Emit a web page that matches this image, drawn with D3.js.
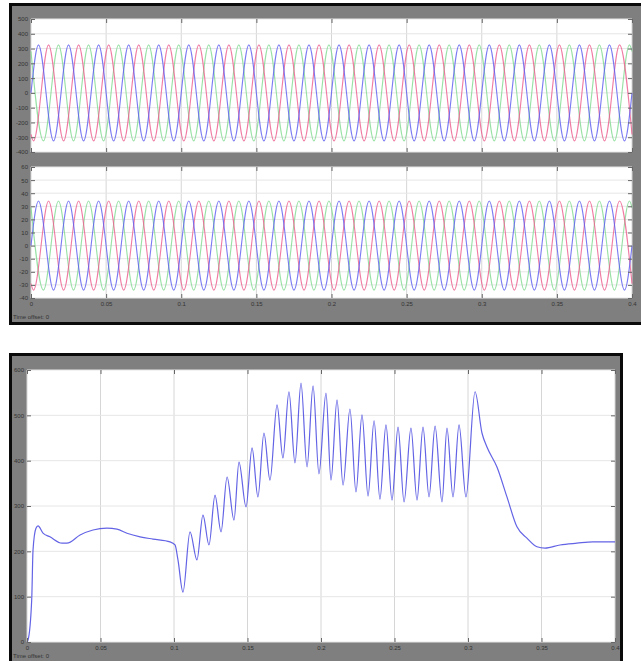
<!DOCTYPE html>
<html><head><meta charset="utf-8">
<script src="https://cdn.jsdelivr.net/npm/d3@7"></script>
<style>
body{margin:0;background:#fff}
svg{display:block}
text{font-family:"Liberation Sans",Arial,sans-serif}
</style>
</head><body>
<svg id="chart" width="641" height="661"></svg>
<script>
// ---- axis ticks ----
const timeTicks = [0, 0.05, 0.1, 0.15, 0.2, 0.25, 0.3, 0.35, 0.4];
const timeTickLabels = ["0", "0.05", "0.1", "0.15", "0.2", "0.25", "0.3", "0.35", "0.4"];
const voltageTicks = [500, 400, 300, 200, 100, 0, -100, -200, -300, -400];
const currentTicks = [60, 50, 40, 30, 20, 10, 0, -10, -20, -30, -40];
const speedTicks = [0, 100, 200, 300, 400, 500, 600];

// ---- three-phase waveforms: turning points (s) ----
const phaseATimes = [0, 0.005, 0.015, 0.025, 0.035, 0.045, 0.055, 0.065, 0.075, 0.085, 0.095,
  0.105, 0.115, 0.125, 0.135, 0.145, 0.155, 0.165, 0.175, 0.185, 0.195,
  0.205, 0.215, 0.225, 0.235, 0.245, 0.255, 0.265, 0.275, 0.285, 0.295,
  0.305, 0.315, 0.325, 0.335, 0.345, 0.355, 0.365, 0.375, 0.385, 0.395, 0.4];
const phaseBTimes = [0, 0.0017, 0.0117, 0.0217, 0.0317, 0.0417, 0.0517, 0.0617, 0.0717, 0.0817, 0.0917,
  0.1017, 0.1117, 0.1217, 0.1317, 0.1417, 0.1517, 0.1617, 0.1717, 0.1817, 0.1917,
  0.2017, 0.2117, 0.2217, 0.2317, 0.2417, 0.2517, 0.2617, 0.2717, 0.2817, 0.2917,
  0.3017, 0.3117, 0.3217, 0.3317, 0.3417, 0.3517, 0.3617, 0.3717, 0.3817, 0.3917, 0.4];
const phaseCTimes = [0, 0.0083, 0.0183, 0.0283, 0.0383, 0.0483, 0.0583, 0.0683, 0.0783, 0.0883, 0.0983,
  0.1083, 0.1183, 0.1283, 0.1383, 0.1483, 0.1583, 0.1683, 0.1783, 0.1883, 0.1983,
  0.2083, 0.2183, 0.2283, 0.2383, 0.2483, 0.2583, 0.2683, 0.2783, 0.2883, 0.2983,
  0.3083, 0.3183, 0.3283, 0.3383, 0.3483, 0.3583, 0.3683, 0.3783, 0.3883, 0.3983, 0.4];

// voltage (V) at those points
const voltageA = [0, 325, -325, 325, -325, 325, -325, 325, -325, 325, -325,
  325, -325, 325, -325, 325, -325, 325, -325, 325, -325,
  325, -325, 325, -325, 325, -325, 325, -325, 325, -325,
  325, -325, 325, -325, 325, -325, 325, -325, 325, -325, 0];
const voltageB = [-281, -325, 325, -325, 325, -325, 325, -325, 325, -325, 325,
  -325, 325, -325, 325, -325, 325, -325, 325, -325, 325,
  -325, 325, -325, 325, -325, 325, -325, 325, -325, 325,
  -325, 325, -325, 325, -325, 325, -325, 325, -325, 325, -281];
const voltageC = [281, -325, 325, -325, 325, -325, 325, -325, 325, -325, 325,
  -325, 325, -325, 325, -325, 325, -325, 325, -325, 325,
  -325, 325, -325, 325, -325, 325, -325, 325, -325, 325,
  -325, 325, -325, 325, -325, 325, -325, 325, -325, 325, 281];

// current (A) at those points
const currentA = [0, 34, -34, 34, -34, 34, -34, 34, -34, 34, -34,
  34, -34, 34, -34, 34, -34, 34, -34, 34, -34,
  34, -34, 34, -34, 34, -34, 34, -34, 34, -34,
  34, -34, 34, -34, 34, -34, 34, -34, 34, -34, 0];
const currentB = [-29, -34, 34, -34, 34, -34, 34, -34, 34, -34, 34,
  -34, 34, -34, 34, -34, 34, -34, 34, -34, 34,
  -34, 34, -34, 34, -34, 34, -34, 34, -34, 34,
  -34, 34, -34, 34, -34, 34, -34, 34, -34, 34, -29];
const currentC = [29, -34, 34, -34, 34, -34, 34, -34, 34, -34, 34,
  -34, 34, -34, 34, -34, 34, -34, 34, -34, 34,
  -34, 34, -34, 34, -34, 34, -34, 34, -34, 34,
  -34, 34, -34, 34, -34, 34, -34, 34, -34, 34, 29];

// ---- lower scope trace ----
const speedTimes = [0, 0.0007, 0.0032, 0.0041, 0.0061, 0.0075, 0.0109, 0.0156, 0.0238, 0.0272,
  0.0361, 0.0449, 0.0544, 0.0612, 0.068, 0.0769, 0.0857, 0.0973, 0.1007, 0.1027,
  0.1061, 0.1109, 0.1156, 0.1197, 0.1238, 0.1279, 0.132, 0.1361, 0.1408, 0.1442,
  0.149, 0.1531, 0.1571, 0.1612, 0.1653, 0.1701, 0.1741, 0.1782, 0.1823, 0.1864,
  0.1905, 0.1946, 0.1986, 0.2034, 0.2068, 0.2109, 0.215, 0.2197, 0.2238, 0.2279,
  0.232, 0.2361, 0.2401, 0.2442, 0.2483, 0.2524, 0.2565, 0.2612, 0.2653, 0.2694,
  0.2735, 0.2776, 0.2823, 0.2857, 0.2898, 0.2939, 0.2986, 0.3048, 0.3095, 0.3129,
  0.3197, 0.3265, 0.3333, 0.3401, 0.3469, 0.3524, 0.3626, 0.3741, 0.385, 0.4];
const speedValues = [0, 4, 93, 203, 251, 256, 240, 232, 218, 218,
  236, 247, 251, 249, 240, 232, 227, 221, 214, 181,
  110, 243, 181, 280, 214, 324, 243, 364, 269, 397,
  298, 428, 320, 461, 357, 523, 406, 552, 395, 571,
  386, 565, 371, 549, 357, 534, 346, 514, 331, 501,
  322, 488, 315, 479, 313, 474, 309, 472, 313, 474,
  320, 476, 309, 472, 320, 479, 320, 552, 461, 430,
  386, 320, 254, 229, 210, 207, 214, 218, 221, 221];

const svg = d3.select("#chart");
const GRAY = "#7f7f7f";

function zip(ts, vs) { return ts.map((t, i) => [t, vs[i]]); }

// scope window frame: black edge, gray body
function frame(x0, y0, x1, y1) {
  svg.append("rect").attr("x", x0).attr("y", y0).attr("width", x1 - x0).attr("height", y1 - y0).attr("fill", "#0a0a0a");
  svg.append("rect").attr("x", x0 + 3).attr("y", y0 + 3).attr("width", x1 - x0 - 6).attr("height", y1 - y0 - 6).attr("fill", GRAY);
}

function panel(x, y, yTicks, yTickLabels, showX, series) {
  const [l, r] = x.range();
  const [b, t] = y.range();
  const g = svg.append("g");
  g.append("rect").attr("x", l).attr("y", t).attr("width", r - l).attr("height", b - t).attr("fill", "#fff");

  // grid
  g.append("g").selectAll("line").data(timeTicks).join("line")
    .attr("x1", d => x(d)).attr("x2", d => x(d)).attr("y1", t).attr("y2", b)
    .attr("stroke", "#d6d6d6").attr("stroke-width", 1);
  g.append("g").selectAll("line").data(yTicks).join("line")
    .attr("x1", l).attr("x2", r).attr("y1", d => y(d)).attr("y2", d => y(d))
    .attr("stroke", "#e6e6e6").attr("stroke-width", 1);

  // traces
  const line = d3.line().x(d => x(d[0])).y(d => y(d[1])).curve(d3.curveMonotoneX);
  series.forEach(s => {
    g.append("path").datum(s.points).attr("d", line)
      .attr("fill", "none").attr("stroke", s.color).attr("stroke-width", s.width || 1.1)
      .attr("stroke-opacity", s.opacity || 0.8);
  });

  // axes with inward ticks
  const left = g.append("g").attr("transform", `translate(${l},0)`)
    .call(d3.axisLeft(y).tickValues(yTicks).tickFormat((d, i) => yTickLabels[i]).tickSizeInner(-4).tickSizeOuter(0).tickPadding(3));
  const right = g.append("g").attr("transform", `translate(${r},0)`)
    .call(d3.axisRight(y).tickValues(yTicks).tickFormat("").tickSizeInner(-4).tickSizeOuter(0));
  const bottom = g.append("g").attr("transform", `translate(0,${b})`)
    .call(d3.axisBottom(x).tickValues(timeTicks).tickFormat((d, i) => showX ? timeTickLabels[i] : "").tickSizeInner(-4).tickSizeOuter(0).tickPadding(4));
  const top = g.append("g").attr("transform", `translate(0,${t})`)
    .call(d3.axisTop(x).tickValues(timeTicks).tickFormat("").tickSizeInner(-4).tickSizeOuter(0));
  [left, right, bottom, top].forEach(a => {
    a.select(".domain").remove();
    a.selectAll(".tick line").attr("stroke", "#666");
    a.selectAll("text").attr("font-size", 6).attr("fill", "#333").attr("font-family", "Liberation Sans, Arial, sans-serif");
  });
}

// ---- upper scope: voltages and currents ----
frame(9, 3, 650, 325);
const xTop = d3.scaleLinear().domain([0, 0.4]).range([31, 632]);
const yVolt = d3.scaleLinear().domain([-400, 500]).range([152, 19]);
const yCurr = d3.scaleLinear().domain([-40, 60]).range([298, 167]);
const phaseColors = ["#5a5af0", "#ec5a8c", "#7ed98e"];

panel(xTop, yVolt, voltageTicks, voltageTicks.map(String), false, [
  { points: zip(phaseCTimes, voltageC), color: phaseColors[2] },
  { points: zip(phaseBTimes, voltageB), color: phaseColors[1] },
  { points: zip(phaseATimes, voltageA), color: phaseColors[0] }
]);
panel(xTop, yCurr, currentTicks, currentTicks.map(String), true, [
  { points: zip(phaseCTimes, currentC), color: phaseColors[2] },
  { points: zip(phaseBTimes, currentB), color: phaseColors[1] },
  { points: zip(phaseATimes, currentA), color: phaseColors[0] }
]);
svg.append("text").attr("x", 13).attr("y", 319).attr("font-size", 6).attr("fill", "#333").text("Time offset:  0");

// ---- lower scope ----
frame(9, 353, 623, 670);
const xBot = d3.scaleLinear().domain([0, 0.4]).range([27, 615]);
const ySpeed = d3.scaleLinear().domain([0, 600]).range([642, 370]);
panel(xBot, ySpeed, speedTicks, speedTicks.map(String), true, [
  { points: zip(speedTimes, speedValues), color: "#4848e0", width: 1.2, opacity: 0.85 }
]);
svg.append("text").attr("x", 13).attr("y", 658).attr("font-size", 6).attr("fill", "#333").text("Time offset:  0");
</script>
</body></html>
